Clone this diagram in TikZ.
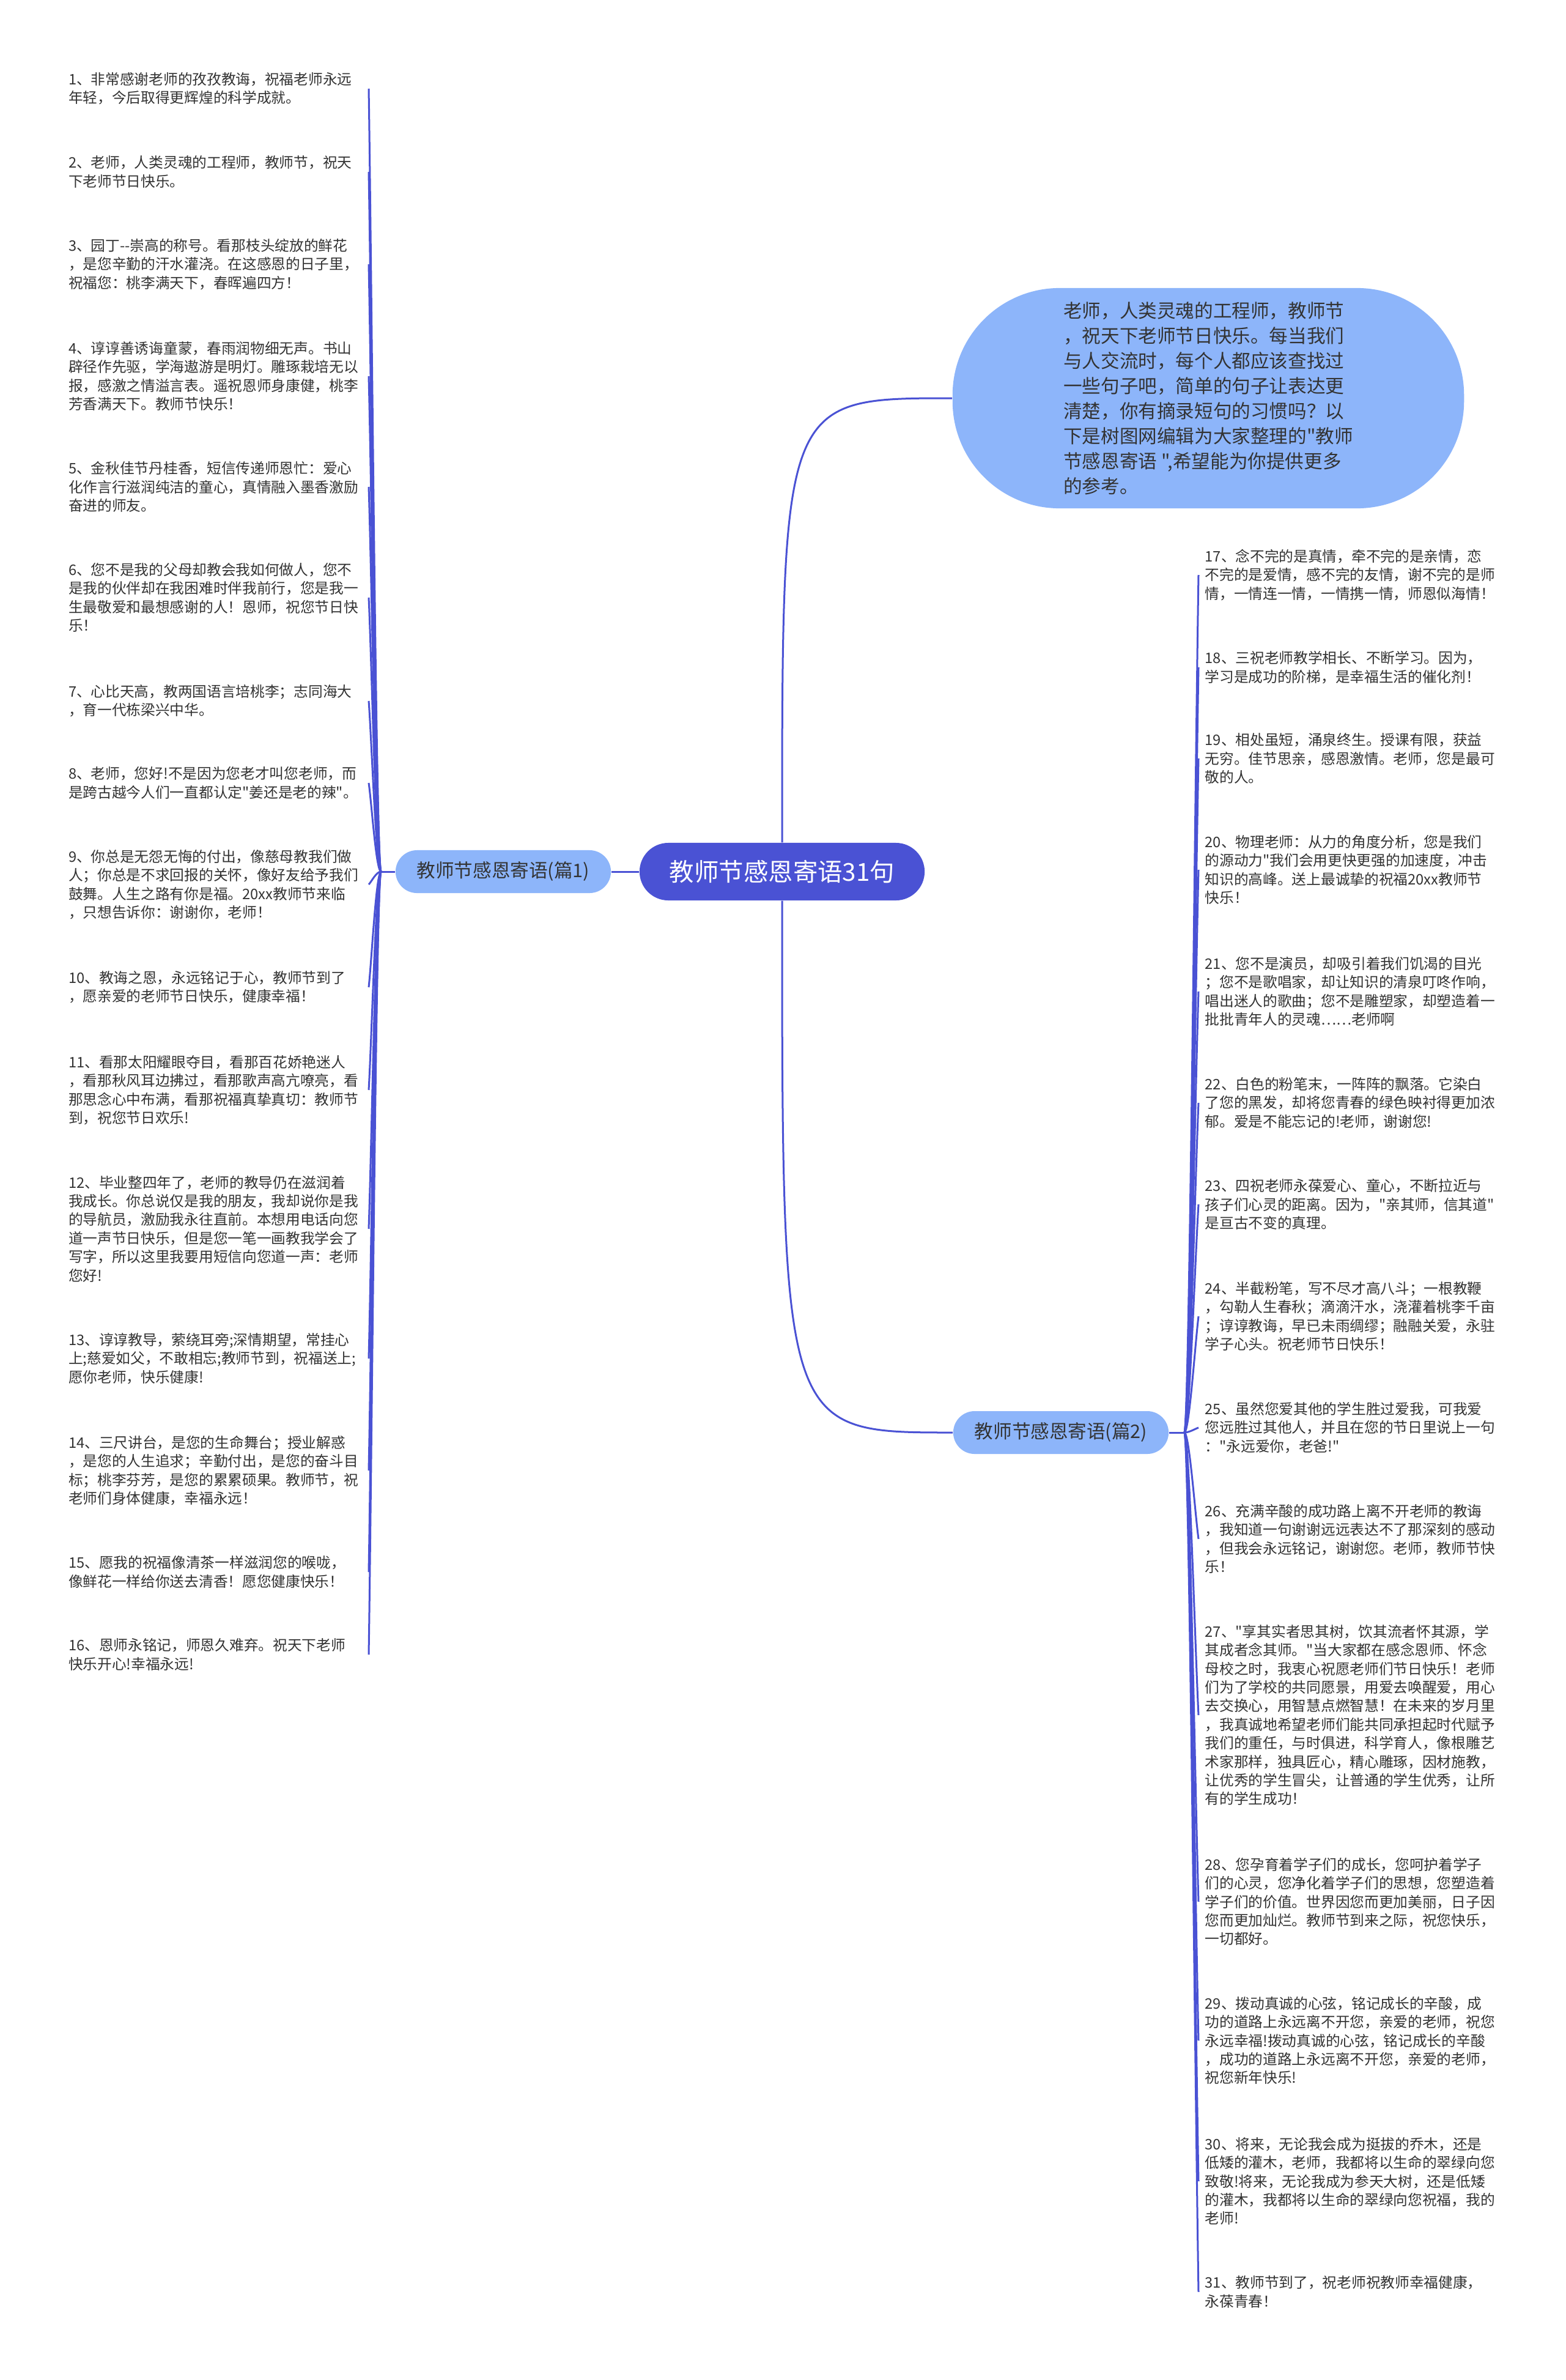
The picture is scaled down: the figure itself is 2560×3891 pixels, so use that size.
\documentclass[tikz,border=0pt]{standalone}
\usepackage{fontspec}
\setmainfont{Noto Sans CJK SC}[Ligatures=TeXOff]
\usepackage{tikz}
\usetikzlibrary{calc,positioning}

\definecolor{hub}{RGB}{74,82,212}
\definecolor{leaf}{RGB}{141,181,250}
\definecolor{ink}{RGB}{51,51,51}

\tikzset{
  link/.style={draw=hub,line width=0.03cm},
  root/.style={fill=hub,text=white,rounded corners=0.47cm,minimum width=4.66cm,minimum height=0.94cm,font=\fontsize{11.5}{13}\selectfont},
  part/.style={fill=leaf,text=ink,rounded corners=0.35cm,minimum width=3.52cm,minimum height=0.7cm,font=\fontsize{8.7}{10}\selectfont},
  intro/.style={fill=leaf,text=ink,rounded corners=1.75cm,minimum width=8.36cm,minimum height=3.6cm,align=left,font=\fontsize{8.7}{11.67}\selectfont},
  msg/.style={text=ink,align=left,text width=4.8cm,inner xsep=0.1cm,inner ysep=0pt,font=\fontsize{6.74}{8.65}\selectfont},
  lmsg/.style={msg,anchor=east},
  rmsg/.style={msg,anchor=west}
}

\begin{document}
\begin{tikzpicture}[x=0.01cm,y=-0.01cm]
\useasboundingbox (0,0) rectangle (2560,3891);
\fill[white] (0,0) rectangle (2560,3891);

% centre, parts and intro
\node[root] (c) at (1279,1425) {教师节感恩寄语31句};
\node[part] (b1) at (823,1425) {教师节感恩寄语(篇1)};
\node[part] (b2) at (1735,2342) {教师节感恩寄语(篇2)};
\node[intro] (bb) at (1976,651) {老师，人类灵魂的工程师，教师节\\，祝天下老师节日快乐。每当我们\\与人交流时，每个人都应该查找过\\一些句子吧，简单的句子让表达更\\清楚，你有摘录短句的习惯吗？以\\下是树图网编辑为大家整理的"教师\\节感恩寄语 ",希望能为你提供更多\\的参考。};
\coordinate (f1) at ($(b1.west)+(-23,0)$);
\coordinate (f2) at ($(b2.east)+(25,0)$);

% part 1
\node[lmsg] (i1) at (603,145) {1、非常感谢老师的孜孜教诲，祝福老师永远\\年轻，今后取得更辉煌的科学成就。};
\node[lmsg] (i2) at (603,281) {2、老师，人类灵魂的工程师，教师节，祝天\\下老师节日快乐。};
\node[lmsg] (i3) at (603,432) {3、园丁--崇高的称号。看那枝头绽放的鲜花\\，是您辛勤的汗水灌浇。在这感恩的日子里，\\祝福您：桃李满天下，春晖遍四方！};
\node[lmsg] (i4) at (603,615) {4、谆谆善诱诲童蒙，春雨润物细无声。书山\\辟径作先驱，学海遨游是明灯。雕琢栽培无以\\报，感激之情溢言表。遥祝恩师身康健，桃李\\芳香满天下。教师节快乐！};
\node[lmsg] (i5) at (603,796) {5、金秋佳节丹桂香，短信传递师恩忙：爱心\\化作言行滋润纯洁的童心，真情融入墨香激励\\奋进的师友。};
\node[lmsg] (i6) at (603,977) {6、您不是我的父母却教会我如何做人，您不\\是我的伙伴却在我困难时伴我前行，您是我一\\生最敬爱和最想感谢的人！恩师，祝您节日快\\乐！};
\node[lmsg] (i7) at (603,1146) {7、心比天高，教两国语言培桃李；志同海大\\，育一代栋梁兴中华。};
\node[lmsg] (i8) at (603,1280) {8、老师，您好!不是因为您老才叫您老师，而\\是跨古越今人们一直都认定"姜还是老的辣"。};
\node[lmsg] (i9) at (603,1446) {9、你总是无怨无悔的付出，像慈母教我们做\\人；你总是不求回报的关怀，像好友给予我们\\鼓舞。人生之路有你是福。20xx教师节来临\\，只想告诉你：谢谢你，老师！};
\node[lmsg] (i10) at (603,1614) {10、教诲之恩，永远铭记于心，教师节到了\\，愿亲爱的老师节日快乐，健康幸福！};
\node[lmsg] (i11) at (603,1782) {11、看那太阳耀眼夺目，看那百花娇艳迷人\\，看那秋风耳边拂过，看那歌声高亢嘹亮，看\\那思念心中布满，看那祝福真挚真切：教师节\\到，祝您节日欢乐!};
\node[lmsg] (i12) at (603,2009) {12、毕业整四年了，老师的教导仍在滋润着\\我成长。你总说仅是我的朋友，我却说你是我\\的导航员，激励我永往直前。本想用电话向您\\道一声节日快乐，但是您一笔一画教我学会了\\写字，所以这里我要用短信向您道一声：老师\\您好!};
\node[lmsg] (i13) at (603,2221) {13、谆谆教导，萦绕耳旁;深情期望，常挂心\\上;慈爱如父，不敢相忘;教师节到，祝福送上;\\愿你老师，快乐健康!};
\node[lmsg] (i14) at (603,2404) {14、三尺讲台，是您的生命舞台；授业解惑\\，是您的人生追求；辛勤付出，是您的奋斗目\\标；桃李芬芳，是您的累累硕果。教师节，祝\\老师们身体健康，幸福永远！};
\node[lmsg] (i15) at (603,2570) {15、愿我的祝福像清茶一样滋润您的喉咙，\\像鲜花一样给你送去清香！愿您健康快乐！};
\node[lmsg] (i16) at (603,2705) {16、恩师永铭记，师恩久难弃。祝天下老师\\快乐开心!幸福永远!};

% part 2
\node[rmsg] (i17) at (1960,940) {17、念不完的是真情，牵不完的是亲情，恋\\不完的是爱情，感不完的友情，谢不完的是师\\情，一情连一情，一情携一情，师恩似海情！};
\node[rmsg] (i18) at (1960,1091) {18、三祝老师教学相长、不断学习。因为，\\学习是成功的阶梯，是幸福生活的催化剂！};
\node[rmsg] (i19) at (1960,1240) {19、相处虽短，涌泉终生。授课有限，获益\\无穷。佳节思亲，感恩激情。老师，您是最可\\敬的人。};
\node[rmsg] (i20) at (1960,1422) {20、物理老师：从力的角度分析，您是我们\\的源动力"我们会用更快更强的加速度，冲击\\知识的高峰。送上最诚挚的祝福20xx教师节\\快乐！};
\node[rmsg] (i21) at (1960,1621) {21、您不是演员，却吸引着我们饥渴的目光\\；您不是歌唱家，却让知识的清泉叮咚作响，\\唱出迷人的歌曲；您不是雕塑家，却塑造着一\\批批青年人的灵魂……老师啊};
\node[rmsg] (i22) at (1960,1803) {22、白色的粉笔末，一阵阵的飘落。它染白\\了您的黑发，却将您青春的绿色映衬得更加浓\\郁。爱是不能忘记的!老师，谢谢您!};
\node[rmsg] (i23) at (1960,1969) {23、四祝老师永葆爱心、童心，不断拉近与\\孩子们心灵的距离。因为，"亲其师，信其道"\\是亘古不变的真理。};
\node[rmsg] (i24) at (1960,2152) {24、半截粉笔，写不尽才高八斗；一根教鞭\\，勾勒人生春秋；滴滴汗水，浇灌着桃李千亩\\；谆谆教诲，早已未雨绸缪；融融关爱，永驻\\学子心头。祝老师节日快乐！};
\node[rmsg] (i25) at (1960,2334) {25、虽然您爱其他的学生胜过爱我，可我爱\\您远胜过其他人，并且在您的节日里说上一句\\："永远爱你，老爸!"};
\node[rmsg] (i26) at (1960,2516) {26、充满辛酸的成功路上离不开老师的教诲\\，我知道一句谢谢远远表达不了那深刻的感动\\，但我会永远铭记，谢谢您。老师，教师节快\\乐！};
\node[rmsg] (i27) at (1960,2804) {27、"享其实者思其树，饮其流者怀其源，学\\其成者念其师。"当大家都在感念恩师、怀念\\母校之时，我衷心祝愿老师们节日快乐！老师\\们为了学校的共同愿景，用爱去唤醒爱，用心\\去交换心，用智慧点燃智慧！在未来的岁月里\\，我真诚地希望老师们能共同承担起时代赋予\\我们的重任，与时俱进，科学育人，像根雕艺\\术家那样，独具匠心，精心雕琢，因材施教，\\让优秀的学生冒尖，让普通的学生优秀，让所\\有的学生成功！};
\node[rmsg] (i28) at (1960,3109) {28、您孕育着学子们的成长，您呵护着学子\\们的心灵，您净化着学子们的思想，您塑造着\\学子们的价值。世界因您而更加美丽，日子因\\您而更加灿烂。教师节到来之际，祝您快乐，\\一切都好。};
\node[rmsg] (i29) at (1960,3336) {29、拨动真诚的心弦，铭记成长的辛酸，成\\功的道路上永远离不开您，亲爱的老师，祝您\\永远幸福!拨动真诚的心弦，铭记成长的辛酸\\，成功的道路上永远离不开您，亲爱的老师，\\祝您新年快乐!};
\node[rmsg] (i30) at (1960,3566) {30、将来，无论我会成为挺拔的乔木，还是\\低矮的灌木，老师，我都将以生命的翠绿向您\\致敬!将来，无论我成为参天大树，还是低矮\\的灌木，我都将以生命的翠绿向您祝福，我的\\老师!};
\node[rmsg] (i31) at (1960,3747) {31、教师节到了，祝老师祝教师幸福健康，\\永葆青春！};

% links
\draw[link] (c) -- (b1);
\draw[link] (c.north) .. controls (c.north |- bb.west) .. (bb.west);
\draw[link] (c.south) .. controls (c.south |- b2.west) .. (b2.west);
\draw[link] (b1.west) -- (f1);
\draw[link] (b2.east) -- (f2);
\foreach \n in {1,...,16}
  \draw[link] (f1) .. controls ($(f1)+(-8,0)$) and ($(i\n.east)!0.25!(f1)$) .. (i\n.east);
\foreach \n in {17,...,31}
  \draw[link] (f2) .. controls ($(f2)+(8,0)$) and ($(i\n.west)!0.25!(f2)$) .. (i\n.west);
\end{tikzpicture}
\end{document}
